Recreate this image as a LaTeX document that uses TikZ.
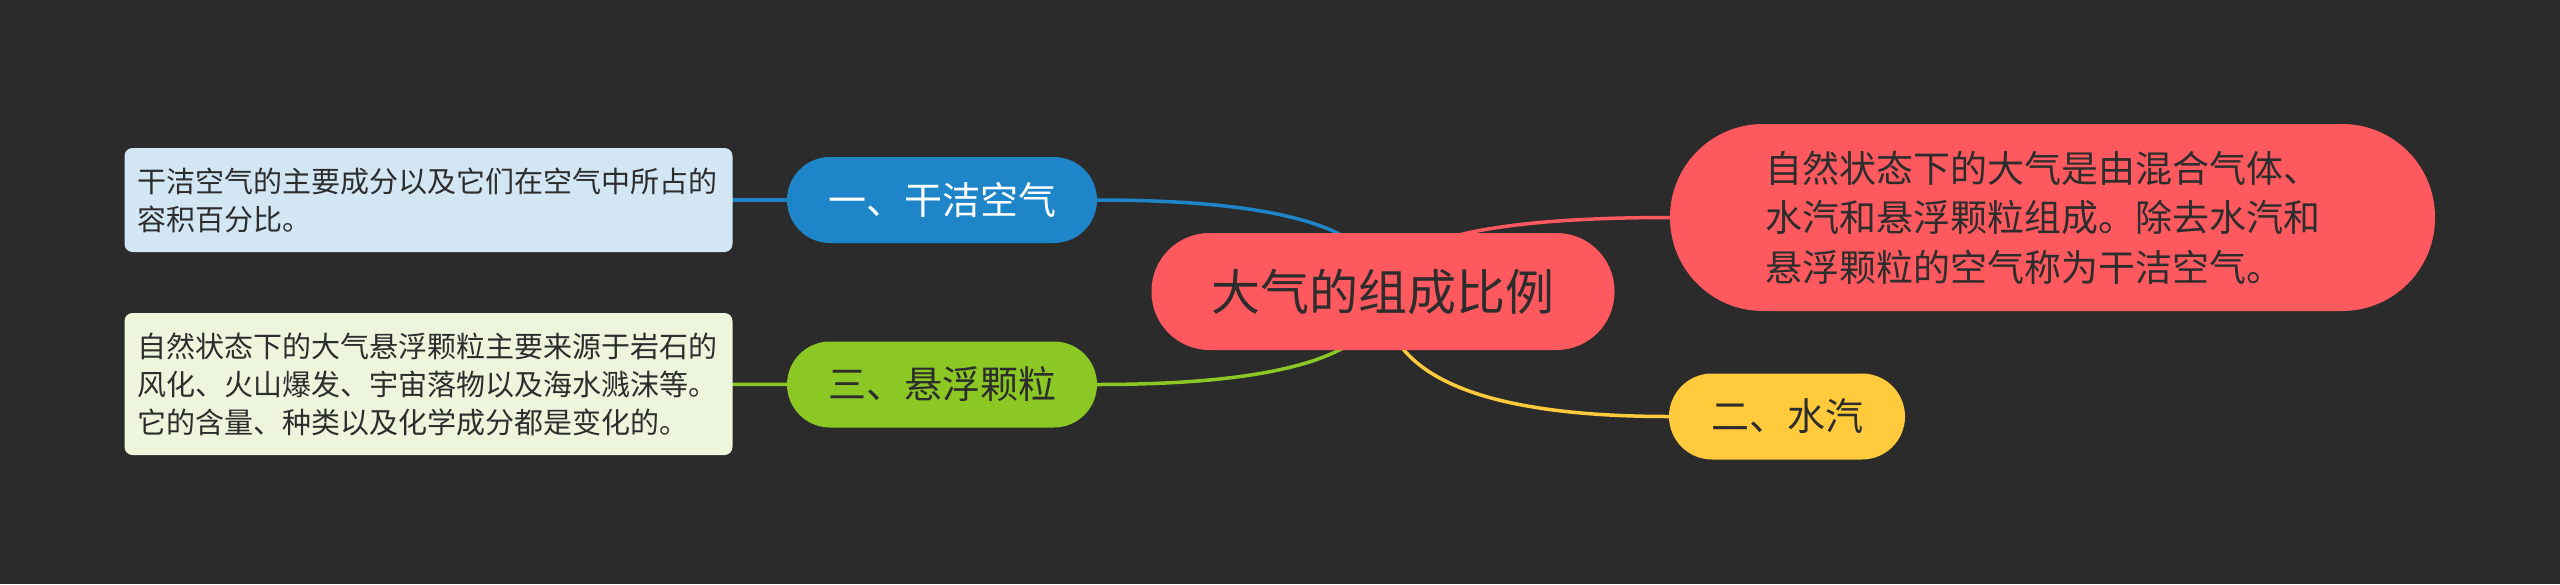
\documentclass[tikz,border=0pt]{standalone}
\usepackage{fontspec}
\setmainfont{Noto Sans CJK SC}
\usepackage{xcolor}
\definecolor{ColBg}{RGB}{43,43,43}
\definecolor{ColRed}{RGB}{254,89,94}
\definecolor{ColBlue}{RGB}{30,133,200}
\definecolor{ColGreen}{RGB}{139,200,36}
\definecolor{ColYellow}{RGB}{255,203,60}
\definecolor{ColPaleBlue}{RGB}{211,230,243}
\definecolor{ColPaleGreen}{RGB}{237,245,221}
\definecolor{ColInk}{RGB}{45,45,45}
\usepackage{tikz}
\usetikzlibrary{calc}
\pgfdeclarelayer{bg}
\pgfdeclarelayer{edges}
\pgfsetlayers{bg,edges,main}
\tikzstyle{Root}=[rectangle,fill=ColRed,text=ColInk,inner sep=0pt,
minimum width=463pt,minimum height=117pt,rounded corners=58pt,
font=\fontsize{49}{55}\selectfont]
\tikzstyle{Topic}=[rectangle,text=ColInk,inner sep=0pt,minimum height=86pt,
rounded corners=43pt,font=\fontsize{38}{44}\selectfont]
\tikzstyle{Note}=[rectangle,text=ColInk,text width=582pt,align=left,
inner xsep=13pt,inner ysep=0pt,rounded corners=8pt,
font=\fontsize{29}{38}\selectfont]
\tikzstyle{Edge}=[line width=3.5pt,line cap=round]

\begin{document}
\begin{tikzpicture}[x=1pt,y=-1pt]
    \useasboundingbox (0,0) rectangle (2560,584);
    \begin{pgfonlayer}{bg}
        \fill[ColBg] (0,0) rectangle (2560,584);
    \end{pgfonlayer}
        \node[Root](root)at(1383,291.5){大气的组成比例};
        \node[Topic,fill=ColBlue,text=white,minimum width=310pt](dry)
            at(942,200){一、干洁空气};
        \node[Topic,fill=ColGreen,minimum width=310pt](dust)
            at(942,384.5){三、悬浮颗粒};
        \node[Topic,fill=ColYellow,minimum width=236pt](vap)
            at(1787,416.5){二、水汽};
        \node[Topic,fill=ColRed,minimum width=765pt,minimum height=187pt,
            rounded corners=93pt,text width=575pt,align=left,
            font=\fontsize{37}{49.5}\selectfont](air)at(2052.5,217.5)
            {自然状态下的大气是由混合气体、\\水汽和悬浮颗粒组成。除去水汽和\\悬浮颗粒的空气称为干洁空气。};
        \node[Note,fill=ColPaleBlue,minimum height=104pt](drynote)
            at(428.5,200)
            {干洁空气的主要成分以及它们在空气中所占的\\容积百分比。};
        \node[Note,fill=ColPaleGreen,minimum height=142pt](dustnote)
            at(428.5,384)
            {自然状态下的大气悬浮颗粒主要来源于岩石的\\风化、火山爆发、宇宙落物以及海水溅沫等。\\它的含量、种类以及化学成分都是变化的。};
    \begin{pgfonlayer}{edges}
        \coordinate(k1)at(root.center |- dry.east);
        \coordinate(k2)at(root.center |- dust.east);
        \coordinate(k3)at(root.center |- air.west);
        \coordinate(k4)at(root.center |- vap.west);
        \draw[Edge,draw=ColBlue](root.center)
            ..controls($(root.center)!2/3!(k1)$)and($(dry.east)!2/3!(k1)$)..(dry.east);
        \draw[Edge,draw=ColGreen](root.center)
            ..controls($(root.center)!2/3!(k2)$)and($(dust.east)!2/3!(k2)$)..(dust.east);
        \draw[Edge,draw=ColRed](root.center)
            ..controls($(root.center)!2/3!(k3)$)and($(air.west)!2/3!(k3)$)..(air.west);
        \draw[Edge,draw=ColYellow](root.center)
            ..controls($(root.center)!2/3!(k4)$)and($(vap.west)!2/3!(k4)$)..(vap.west);
        \draw[Edge,draw=ColBlue](drynote)--(dry);
        \draw[Edge,draw=ColGreen](dustnote)--(dust);
    \end{pgfonlayer}
\end{tikzpicture}
\end{document}
